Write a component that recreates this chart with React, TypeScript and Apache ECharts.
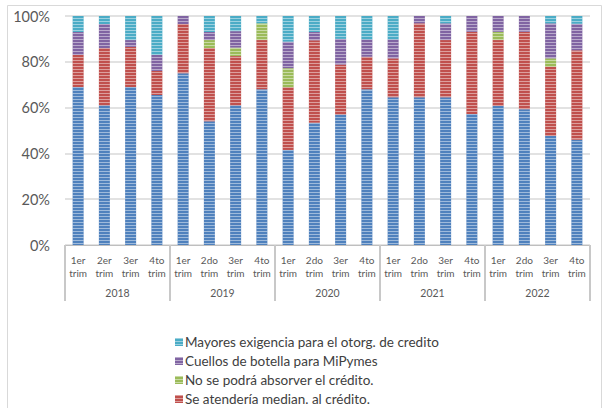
import React, { useEffect, useRef } from "react";
import * as echarts from "echarts";

const quarters = [
  "1er\ntrim", "2er\ntrim", "3er\ntrim", "4to\ntrim",
  "1er\ntrim", "2do\ntrim", "3er\ntrim", "4to\ntrim",
  "1er\ntrim", "2do\ntrim", "3er\ntrim", "4to\ntrim",
  "1er\ntrim", "2do\ntrim", "3er\ntrim", "4to\ntrim",
  "1er\ntrim", "2do\ntrim", "3er\ntrim", "4to\ntrim",
];
const years = ["2018", "2019", "2020", "2021", "2022"];
const yTicks = [0, 20, 40, 60, 80, 100];

const baseName = "";
const redName = "Se atendería median. al crédito.";
const greenName = "No se podrá absorver el crédito.";
const purpleName = "Cuellos de botella para MiPymes";
const cyanName = "Mayores exigencia para el otorg. de credito";

const blueValues = [69, 61, 69, 65.5, 75, 54, 61, 68, 41.5, 53.4, 57, 68, 64.5, 64.5, 64.5, 57.2, 60.7, 59.3, 47.6, 46];
const redValues = [14, 25, 17.5, 10.5, 21.5, 32, 21.5, 21.5, 27.4, 36, 21.8, 14.2, 17, 32.3, 25, 35.9, 28.8, 33.8, 30.3, 39];
const greenValues = [0, 0, 0, 0, 0, 3.5, 3.7, 7.3, 8.3, 0, 0, 0, 0, 0, 0, 0, 3.6, 0, 3.6, 0];
const purpleValues = [10, 10.5, 3, 7, 3.5, 3.5, 7.2, 0, 11.6, 3.6, 11.2, 7.6, 8.3, 3.2, 7.3, 6.9, 6.9, 6.9, 15.3, 11.6];
const cyanValues = [7, 3.5, 10.5, 17, 0, 7, 6.6, 3.2, 11.2, 7, 10, 10.2, 10.2, 0, 3.2, 0, 0, 0, 3.2, 3.4];

const decal = {
  symbol: "rect",
  symbolSize: 1,
  dashArrayX: [1, 0],
  dashArrayY: [1, 2],
  rotation: 0,
  color: "rgba(255,255,255,0.45)",
};

export default function App() {
  const ref = useRef<HTMLDivElement>(null);
  useEffect(() => {
    if (!ref.current) return;
    const chart = echarts.init(ref.current, null, { renderer: "svg" });
    const mk = (name: string, data: number[], color: string) => ({
      name,
      type: "bar",
      stack: "total",
      barWidth: 11,
      data,
      itemStyle: { color, decal },
      emphasis: { disabled: true },
    });
    chart.setOption({
      animation: false,
      backgroundColor: "#ffffff",
      graphic: [
        {
          type: "rect",
          shape: { x: 7.5, y: 5.5, width: 594, height: 420 },
          style: { fill: "none", stroke: "#d9d9d9", lineWidth: 1 },
          silent: true,
        },
      ],
      grid: { left: 65, right: 16, top: 16, bottom: 163 },
      legend: {
        orient: "vertical",
        left: 170,
        top: 330,
        width: 400,
        height: 200,
        itemWidth: 8,
        itemHeight: 8,
        itemGap: 5,
        icon: "rect",
        data: [cyanName, purpleName, greenName, redName],
        textStyle: { fontFamily: "Lato", fontSize: 13.5, color: "#404040", padding: [0, 0, 0, -3] },
      },
      xAxis: [
        {
          type: "category",
          data: quarters,
          axisLine: { show: true, lineStyle: { color: "#bfbfbf", width: 1 } },
          axisTick: { show: false },
          axisLabel: {
            interval: 0,
            margin: 8,
            fontFamily: "Lato",
            fontSize: 10,
            lineHeight: 13,
            color: "#595959",
          },
        },
        {
          type: "category",
          data: years,
          position: "bottom",
          axisLine: { show: false },
          axisTick: { show: true, length: 56, interval: 0, lineStyle: { color: "#c8c8c8", width: 2 } },
          axisLabel: {
            interval: 0,
            margin: 42,
            fontFamily: "Lato",
            fontSize: 10.5,
            color: "#595959",
          },
        },
      ],
      yAxis: {
        type: "value",
        min: yTicks[0],
        max: yTicks[yTicks.length - 1],
        interval: 20,
        axisLine: { show: false },
        axisTick: { show: false },
        splitLine: { lineStyle: { color: "#d9d9d9", width: 1.5 } },
        axisLabel: {
          formatter: "{value}%",
          margin: 15,
          fontFamily: "Lato",
          fontSize: 14.5,
          color: "#595959",
        },
      },
      series: [
        mk(baseName, blueValues, "#4f81bd"),
        mk(redName, redValues, "#c0504d"),
        mk(greenName, greenValues, "#9bbb59"),
        mk(purpleName, purpleValues, "#8064a2"),
        mk(cyanName, cyanValues, "#4bacc6"),
      ],
    });
    return () => chart.dispose();
  }, []);
  return (
    <div
      ref={ref}
      style={{ position: "fixed", left: 0, top: 0, width: 606, height: 408 }}
    />
  );
}
